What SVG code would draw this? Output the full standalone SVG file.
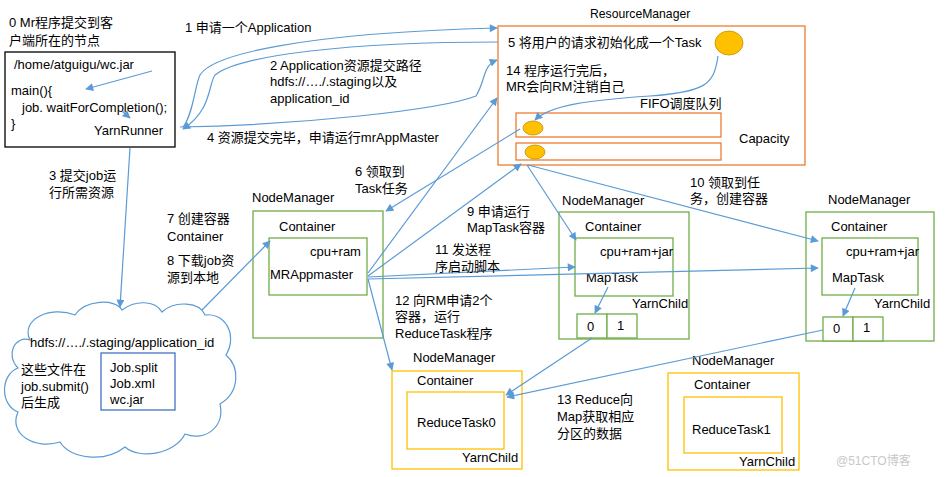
<svg xmlns="http://www.w3.org/2000/svg" width="945" height="477" viewBox="0 0 945 477">
<defs>
<marker id="ah" viewBox="0 0 10 10" refX="9" refY="5" markerWidth="9" markerHeight="8" orient="auto" markerUnits="userSpaceOnUse"><path d="M0,0 L10,5 L0,10 z" fill="#5B9BD5"/></marker>
<style>
text{font-family:"Liberation Sans","Noto Sans CJK SC",sans-serif;font-size:13px;fill:#000}
.c{fill:none;stroke:#5B9BD5;stroke-width:1.2}
.a{marker-end:url(#ah)}
.blk{fill:#fff;stroke:#000;stroke-width:1.3}
.org{fill:#fff;stroke:#ED7D31;stroke-width:1.3}
.grn{fill:#fff;stroke:#70AD47;stroke-width:1.3}
.yel{fill:#fff;stroke:#FFC000;stroke-width:1.3}
.blu{fill:#fff;stroke:#4472C4;stroke-width:1.3}
.dot{fill:#FFC000;stroke:#BF9000;stroke-width:0.8}
</style>
</defs>
<rect width="945" height="477" fill="#fff"/>

<g id="client">
<text x="9" y="27">0 Mr程序提交到客</text>
<text x="9" y="45">户端所在的节点</text>
<rect class="blk" x="5" y="52" width="170" height="95"/>
<text x="14" y="69">/home/atguigu/wc.jar</text>
<text x="11" y="95">main(){</text>
<text x="22" y="112">job. waitForCompletion();</text>
<text x="11" y="128">}</text>
<text x="94" y="135">YarnRunner</text>
</g>

<g id="rm">
<text x="590" y="18" style="font-size:12.2px">ResourceManager</text>
<rect class="org" x="498" y="26" width="307" height="139"/>
<text x="508" y="47">5 将用户的请求初始化成一个Task</text>
<ellipse class="dot" cx="729" cy="43" rx="14" ry="12"/>
<text x="506" y="75">14 程序运行完后，</text>
<text x="506" y="91">MR会向RM注销自己</text>
<text x="640" y="108">FIFO调度队列</text>
<rect class="org" x="516" y="113" width="205" height="24"/>
<rect class="org" x="516" y="143" width="205" height="17"/>
<ellipse class="dot" cx="533" cy="128" rx="10" ry="7"/>
<ellipse class="dot" cx="535" cy="152" rx="10" ry="7"/>
<text x="739" y="143">Capacity</text>
</g>

<g id="cloud">
<path d="M30,340 C20,320 50,305 75,315 C85,300 115,298 122,310 C135,300 155,300 162,312 C175,300 200,302 205,315 C225,312 238,335 226,355 C240,367 240,392 220,404 C225,427 205,442 185,434 C175,454 140,460 125,447 C105,463 70,459 60,442 C35,450 8,434 18,412 C0,405 0,375 18,368 C5,355 15,335 30,340 Z" fill="#fff" stroke="#5B9BD5" stroke-width="1.2"/>
<text x="30" y="347">hdfs://…./.staging/application_id</text>
<text x="21" y="374">这些文件在</text>
<text x="21" y="391">job.submit()</text>
<text x="21" y="407">后生成</text>
<rect class="blu" x="101" y="353" width="74" height="57"/>
<text x="110" y="372">Job.split</text>
<text x="110" y="388">Job.xml</text>
<text x="110" y="404">wc.jar</text>
</g>

<g id="nm1">
<text x="252" y="202">NodeManager</text>
<rect class="grn" x="253" y="211" width="130" height="127"/>
<text x="279" y="231">Container</text>
<rect class="grn" x="269" y="238" width="98" height="57"/>
<text x="310" y="256">cpu+ram</text>
<text x="270" y="279">MRAppmaster</text>
</g>

<g id="nm2">
<text x="562" y="205">NodeManager</text>
<rect class="grn" x="559" y="212" width="130" height="127"/>
<text x="585" y="231">Container</text>
<rect class="grn" x="575" y="238" width="98" height="58"/>
<text x="600" y="256">cpu+ram+jar</text>
<text x="586" y="282">MapTask</text>
<text x="632" y="308">YarnChild</text>
<rect class="grn" x="577" y="314" width="30" height="24"/>
<rect class="grn" x="607" y="314" width="30" height="24"/>
<text x="587" y="331">0</text>
<text x="617" y="330">1</text>
</g>

<g id="nm3">
<text x="828" y="204">NodeManager</text>
<rect class="grn" x="806" y="212" width="128" height="129"/>
<text x="831" y="231">Container</text>
<rect class="grn" x="822" y="238" width="96" height="57"/>
<text x="846" y="256">cpu+ram+jar</text>
<text x="832" y="282">MapTask</text>
<text x="874" y="308">YarnChild</text>
<rect class="grn" x="823" y="317" width="30" height="24"/>
<rect class="grn" x="853" y="317" width="30" height="24"/>
<text x="833" y="333">0</text>
<text x="863" y="332">1</text>
</g>

<g id="nm4">
<text x="413" y="362">NodeManager</text>
<rect class="yel" x="392" y="371" width="130" height="98"/>
<text x="417" y="385">Container</text>
<rect class="yel" x="407" y="392" width="97" height="57"/>
<text x="417" y="427">ReduceTask0</text>
<text x="462" y="462">YarnChild</text>
</g>

<g id="nm5">
<text x="692" y="365">NodeManager</text>
<rect class="yel" x="668" y="373" width="131" height="97"/>
<text x="694" y="389">Container</text>
<rect class="yel" x="684" y="397" width="98" height="56"/>
<text x="692" y="434">ReduceTask1</text>
<text x="739" y="466">YarnChild</text>
</g>

<g id="connectors">
<path class="c a" d="M152,71 L86,89"/>
<path class="c a" d="M122,111 L130,118"/>
<path class="c a" d="M183,127 C193,115 195,85 200,75 C212,55 300,33 497,28"/>
<path class="c a" d="M498,42 C350,42 240,55 215,75 C208,85 212,110 183,129"/>
<path class="c a" d="M180,127 C300,125 440,110 476,96 C486,80 482,66 497,60"/>
<path class="c a" d="M718,56 C714,85 705,92 650,96 C590,100 550,105 535,120"/>
<path class="c a" d="M130,148 L120,307"/>
<path class="c a" d="M202,310 L270,241"/>
<path class="c a" d="M520,129 L386,211"/>
<path class="c a" d="M368,273 L497,98"/>
<path class="c a" d="M368,276 L521,164"/>
<path class="c a" d="M527,165 L576,240"/>
<path class="c a" d="M528,165 L818,241"/>
<path class="c a" d="M368,277 L575,267"/>
<path class="c a" d="M368,279 L818,268"/>
<path class="c a" d="M368,279 L392,370"/>
<path class="c a" d="M608,287 L595,313"/>
<path class="c a" d="M855,288 L843,316"/>
<path class="c a" d="M592,338 L506,395"/>
<path class="c a" d="M823,330 L507,397"/>
</g>

<g id="labels">
<text x="185" y="32">1 申请一个Application</text>
<text x="270" y="70">2 Application资源提交路径</text>
<text x="270" y="86">hdfs://…./.staging以及</text>
<text x="270" y="103">application_id</text>
<text x="207" y="142">4 资源提交完毕，申请运行mrAppMaster</text>
<text x="49" y="180">3 提交job运</text>
<text x="49" y="197">行所需资源</text>
<text x="167" y="223">7 创建容器</text>
<text x="167" y="241">Container</text>
<text x="167" y="265">8 下载job资</text>
<text x="167" y="282">源到本地</text>
<text x="355" y="176">6 领取到</text>
<text x="355" y="193">Task任务</text>
<text x="467" y="216">9 申请运行</text>
<text x="467" y="232">MapTask容器</text>
<text x="690" y="187">10 领取到任</text>
<text x="690" y="203">务，创建容器</text>
<text x="435" y="254">11 发送程</text>
<text x="435" y="271">序启动脚本</text>
<text x="395" y="305">12 向RM申请2个</text>
<text x="395" y="321">容器，运行</text>
<text x="395" y="338">ReduceTask程序</text>
<text x="557" y="404">13 Reduce向</text>
<text x="557" y="421">Map获取相应</text>
<text x="557" y="438">分区的数据</text>
<text x="836" y="465" style="fill:#c8c8c8;font-size:12px">@51CTO博客</text>
</g>
</svg>
